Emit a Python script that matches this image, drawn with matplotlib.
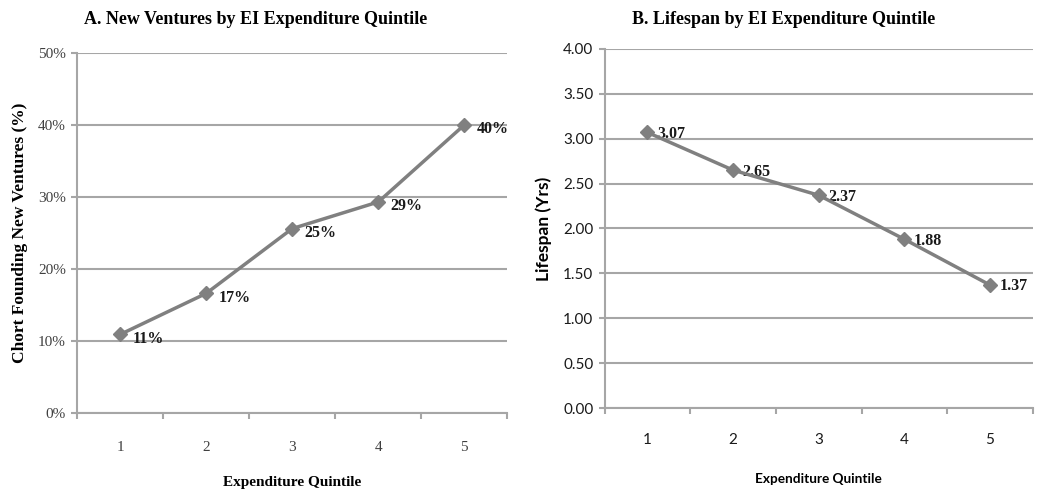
import matplotlib.pyplot as plt
import numpy as np

quintiles = [1, 2, 3, 4, 5]
ventures = [10.9, 16.6, 25.6, 29.3, 40.0]
venture_labels = ["11%", "17%", "25%", "29%", "40%"]
lifespan = [3.07, 2.65, 2.37, 1.88, 1.37]
lifespan_labels = ["3.07", "2.65", "2.37", "1.88", "1.37"]

grid_col = "#a6a6a6"
line_col = "#808080"
serif = "Liberation Serif"
sans = "Lato"

fig = plt.figure(figsize=(10.37, 4.94), dpi=100)
ax1 = fig.add_axes([0.0743, 0.164, 0.415, 0.729])
ax2 = fig.add_axes([0.583, 0.174, 0.413, 0.727])


def style(ax, tick_font, tick_col, pad):
    for s in ["top", "right"]:
        ax.spines[s].set_visible(False)
    for s in ["left", "bottom"]:
        ax.spines[s].set_color(grid_col)
        ax.spines[s].set_linewidth(1.5)
    ax.set_xlim(0.5, 5.5)
    ax.set_xticks(quintiles)
    ax.set_xticks(np.arange(0.5, 6.0, 1.0), minor=True)
    ax.tick_params(axis="x", which="major", length=0, pad=pad)
    ax.tick_params(axis="x", which="minor", length=4, color=grid_col, width=1.5)
    ax.tick_params(axis="y", length=4, color=grid_col, width=1.5, pad=4)
    ax.grid(axis="y", color=grid_col, linewidth=1.5)
    ax.set_axisbelow(True)
    for t in ax.get_xticklabels() + ax.get_yticklabels():
        t.set_fontfamily(tick_font)
        t.set_fontsize(11)
        t.set_color(tick_col)


# Panel A
ax1.plot(quintiles, ventures, color=line_col, linewidth=2.5, marker="D",
         markersize=7, zorder=5)
ax1.set_ylim(0, 50)
ax1.set_yticks(range(0, 51, 10))
ax1.set_yticklabels([f"{v}%" for v in range(0, 51, 10)])
style(ax1, serif, "#404040", 20)
for x, y, lab in zip(quintiles, ventures, venture_labels):
    ax1.annotate(lab, (x, y), xytext=(9, -3), textcoords="offset points",
                 ha="left", va="center", fontfamily=serif, fontweight="bold",
                 fontsize=11.5, color="#1a1a1a")
ax1.set_title("A. New Ventures by EI Expenditure Quintile", fontfamily=serif,
              fontweight="bold", fontsize=13, pad=21, x=0.416)
ax1.set_xlabel("Expenditure Quintile", fontfamily=serif, fontweight="bold",
               fontsize=11, labelpad=16)
ax1.set_ylabel("Chort Founding New Ventures (%)", fontfamily=serif,
               fontweight="bold", fontsize=12.5, labelpad=7)

# Panel B
ax2.plot(quintiles, lifespan, color=line_col, linewidth=2.5, marker="D",
         markersize=7, zorder=5)
ax2.set_ylim(0, 4)
ax2.set_yticks(np.arange(0, 4.01, 0.5))
ax2.set_yticklabels([f"{v:.2f}" for v in np.arange(0, 4.01, 0.5)])
style(ax2, sans, "#1a1a1a", 18)
for x, y, lab in zip(quintiles, lifespan, lifespan_labels):
    ax2.annotate(lab, (x, y), xytext=(7, -1), textcoords="offset points",
                 ha="left", va="center", fontfamily=serif, fontweight="bold",
                 fontsize=11.5, color="#1a1a1a")
ax2.set_title("B. Lifespan by EI Expenditure Quintile", fontfamily=serif,
              fontweight="bold", fontsize=13, pad=18, x=0.418)
ax2.set_xlabel("Expenditure Quintile", fontfamily=sans, fontweight="bold",
               fontsize=9.8, labelpad=19)
ax2.set_ylabel("Lifespan (Yrs)", fontfamily=sans, fontweight="bold",
               fontsize=12.5, labelpad=8)

fig.savefig("out.png", dpi=100)
